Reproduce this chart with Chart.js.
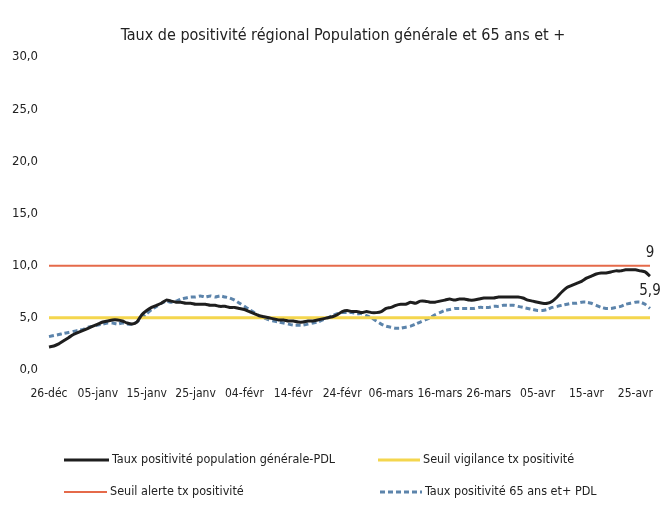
<!DOCTYPE html>
<html><head><meta charset="utf-8">
<script src="https://cdn.jsdelivr.net/npm/chart.js@4"></script>
<style>html,body{margin:0;padding:0;background:#fff}#wrap{width:667px;height:518px;position:relative}</style>
</head><body><div id="wrap"><canvas id="c" width="667" height="518"></canvas></div>
<script>
const FONT = "'Liberation Sans Narrow','DejaVu Sans Condensed','Arial Narrow',sans-serif";

// ---- data ----
const chartTitle = 'Taux de positivité régional Population générale et 65 ans et +';
const monthNames = ['janv','févr','mars','avr','mai','juin','juil','août','sept','oct','nov','déc'];
const firstDay = [2020, 11, 26];
const dayCount = 124;
const tickLabels = ['26-déc','05-janv','15-janv','25-janv','04-févr','14-févr','24-févr','06-mars','16-mars','26-mars','05-avr','15-avr','25-avr'];
const yTickValues = [0, 5, 10, 15, 20, 25, 30];

const generalRate = [
 2.2,2.3,2.5,2.8,3.1,3.4,3.6,3.8,4.0,4.2,
 4.4,4.6,4.7,4.8,4.8,4.7,4.5,4.4,4.6,5.3,
 5.7,6.0,6.2,6.4,6.7,6.6,6.5,6.5,6.4,6.4,
 6.3,6.3,6.3,6.2,6.2,6.1,6.1,6.0,6.0,5.9,
 5.8,5.6,5.4,5.2,5.1,5.0,4.9,4.8,4.8,4.7,
 4.7,4.6,4.6,4.7,4.7,4.8,4.9,5.0,5.1,5.3,
 5.6,5.7,5.6,5.6,5.5,5.6,5.5,5.5,5.6,5.9,
 6.0,6.2,6.3,6.3,6.5,6.4,6.6,6.6,6.5,6.5,
 6.6,6.7,6.8,6.7,6.8,6.8,6.7,6.7,6.8,6.9,
 6.9,6.9,7.0,7.0,7.0,7.0,7.0,6.9,6.7,6.6,
 6.5,6.4,6.4,6.6,7.0,7.5,7.9,8.1,8.3,8.5,
 8.8,9.0,9.2,9.3,9.3,9.4,9.5,9.5,9.6,9.6,
 9.6,9.5,9.4,9.0
];
const senior65Rate = [
 3.2,3.3,3.4,3.5,3.6,3.7,3.8,3.9,4.1,4.2,
 4.3,4.4,4.5,4.5,4.4,4.5,4.4,4.4,4.6,5.0,
 5.4,5.8,6.1,6.4,6.6,6.5,6.6,6.8,6.9,7.0,
 7.0,7.1,7.0,7.1,7.0,7.1,7.0,6.9,6.7,6.4,
 6.1,5.8,5.5,5.2,5.0,4.8,4.7,4.6,4.5,4.4,
 4.3,4.3,4.3,4.4,4.5,4.6,4.8,5.0,5.2,5.4,
 5.5,5.5,5.5,5.4,5.4,5.2,5.0,4.7,4.4,4.2,
 4.1,4.0,4.0,4.1,4.2,4.4,4.6,4.8,5.0,5.3,
 5.5,5.7,5.8,5.9,5.9,5.9,5.9,5.9,6.0,6.0,
 6.0,6.1,6.1,6.2,6.2,6.2,6.1,6.0,5.9,5.8,
 5.7,5.7,5.8,6.0,6.1,6.2,6.3,6.4,6.4,6.5,
 6.5,6.4,6.2,6.0,5.9,5.9,6.0,6.1,6.3,6.4,
 6.5,6.5,6.3,5.9
];
const vigilanceLevel = 5;
const alertLevel = 10;

// categories: one per day
const categories = [];
for (let i = 0; i < dayCount; i++) {
  const d = new Date(firstDay[0], firstDay[1], firstDay[2] + i);
  categories.push(String(d.getDate()).padStart(2, '0') + '-' + monthNames[d.getMonth()]);
}
const firstCat = categories[0], lastCat = categories[categories.length - 1];

const fmt = v => String(v).replace('.', ',');

// title drawn at its own position
const titlePlugin = {
  id: 'titleText',
  afterDraw(chart) {
    const ctx = chart.ctx;
    ctx.save();
    ctx.font = "16px " + FONT;
    ctx.fillStyle = '#222';
    ctx.textAlign = 'center';
    ctx.textBaseline = 'middle';
    ctx.fillText(chartTitle, 343, 36);
    ctx.restore();
  }
};

// end-of-series value labels
const endLabels = {
  id: 'endLabels',
  afterDatasetsDraw(chart) {
    const ctx = chart.ctx;
    ctx.save();
    ctx.font = "15px " + FONT;
    ctx.fillStyle = '#222';
    ctx.textAlign = 'center';
    ctx.textBaseline = 'middle';
    chart.data.datasets.forEach((ds, di) => {
      if (!ds.endLabelOffset) return;
      const meta = chart.getDatasetMeta(di);
      const pt = meta.data[meta.data.length - 1];
      const v = ds.data[ds.data.length - 1];
      ctx.fillText(fmt(v), pt.x, pt.y + ds.endLabelOffset);
    });
    ctx.restore();
  }
};

// 2x2 legend under the plot
const gridLegend = {
  id: 'gridLegend',
  afterDraw(chart) {
    const ctx = chart.ctx;
    const slots = [
      {x: 64, y: 460, w: 45},
      {x: 378, y: 460, w: 42},
      {x: 64, y: 492, w: 43},
      {x: 380, y: 492, w: 42}
    ];
    ctx.save();
    ctx.font = "12.5px " + FONT;
    ctx.textBaseline = 'middle';
    ctx.textAlign = 'left';
    chart.data.datasets.forEach((ds, i) => {
      const s = slots[i];
      ctx.beginPath();
      ctx.strokeStyle = ds.borderColor;
      ctx.lineWidth = ds.borderWidth;
      ctx.setLineDash(ds.borderDash || []);
      ctx.moveTo(s.x, s.y);
      ctx.lineTo(s.x + s.w, s.y);
      ctx.stroke();
      ctx.setLineDash([]);
      ctx.fillStyle = '#222';
      ctx.fillText(ds.label, s.x + s.w + 3, s.y);
    });
    ctx.restore();
  }
};

new Chart(document.getElementById('c'), {
  type: 'line',
  data: {
    labels: categories,
    datasets: [
      {label: 'Taux positivité population générale-PDL', data: generalRate,
       borderColor: '#1e1e1e', borderWidth: 3, pointRadius: 0, tension: 0.2, endLabelOffset: -23},
      {label: 'Seuil vigilance tx positivité', data: [{x: firstCat, y: vigilanceLevel}, {x: lastCat, y: vigilanceLevel}],
       borderColor: '#f4d64e', borderWidth: 3, pointRadius: 0},
      {label: 'Seuil alerte tx positivité', data: [{x: firstCat, y: alertLevel}, {x: lastCat, y: alertLevel}],
       borderColor: '#e56a4a', borderWidth: 2, pointRadius: 0},
      {label: 'Taux positivité 65 ans et+ PDL', data: senior65Rate,
       borderColor: '#5c84ab', borderWidth: 3, borderDash: [5, 3], pointRadius: 0, tension: 0.2, endLabelOffset: -17}
    ]
  },
  options: {
    responsive: false,
    animation: false,
    layout: {padding: {left: 0, right: 16, top: 57, bottom: 116}},
    plugins: {
      legend: {display: false},
      tooltip: {enabled: false},
      title: {display: false}
    },
    scales: {
      x: {
        grid: {display: false, drawTicks: false}, border: {display: false},
        afterFit(s) { s.height = 32; },
        ticks: {autoSkip: false, maxRotation: 0, padding: 17, color: '#222',
          font: {family: FONT, size: 12},
          callback(v, i) { const l = categories[i]; return tickLabels.includes(l) ? l : ''; }}
      },
      y: {
        min: 0, max: 30,
        grid: {display: false, drawTicks: false}, border: {display: false},
        afterBuildTicks(s) { s.ticks = yTickValues.map(v => ({value: v})); },
        afterFit(s) { s.width = 49; },
        ticks: {padding: 11, color: '#222', font: {family: FONT, size: 13},
          callback: v => v.toFixed(1).replace('.', ',')}
      }
    }
  },
  plugins: [titlePlugin, endLabels, gridLegend]
});
</script></body></html>
